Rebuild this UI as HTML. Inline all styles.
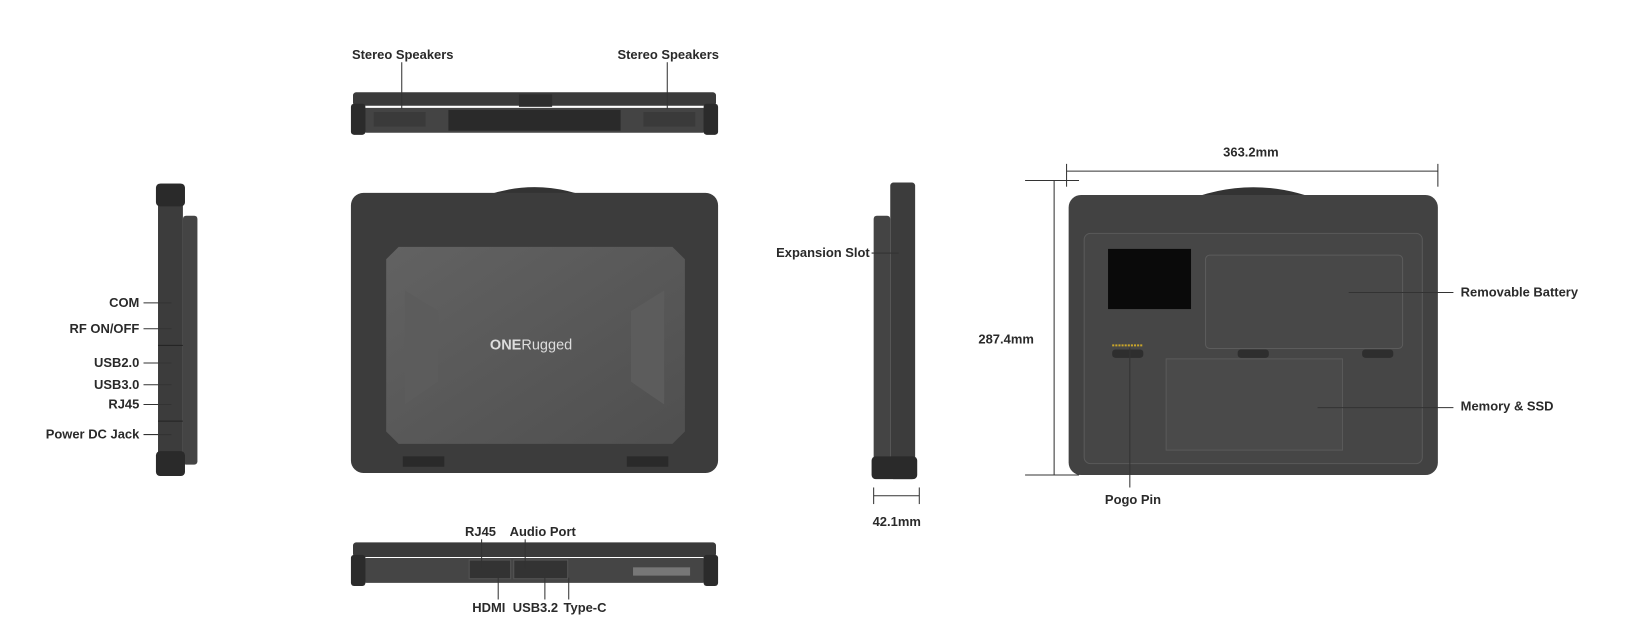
<!DOCTYPE html>
<html><head><meta charset="utf-8"><style>
html,body{margin:0;padding:0;background:#fff;width:1627px;height:642px;overflow:hidden}
svg{display:block}
text{font-family:"Liberation Sans",sans-serif;font-size:12.5px;fill:#2a2a2a;font-weight:bold}
</style></head><body>
<svg width="1627" height="642" viewBox="0 0 1568 619" xmlns="http://www.w3.org/2000/svg">
<defs>
<linearGradient id="lid" x1="0" y1="0" x2="1" y2="1"><stop offset="0" stop-color="#626262"/><stop offset="1" stop-color="#4f4f4f"/></linearGradient>
</defs>
<!-- top view -->
<rect x="340" y="89" width="350" height="13" rx="3" fill="#3a3a3a"/>
<rect x="500" y="91" width="32" height="12" fill="#2e2e2e"/>
<rect x="350" y="104" width="330" height="24" rx="3" fill="#444"/>
<rect x="432" y="106" width="166" height="20" fill="#2a2a2a"/>
<rect x="360" y="108" width="50" height="14" fill="#3a3a3a"/><rect x="620" y="108" width="50" height="14" fill="#3a3a3a"/>
<rect x="338" y="100" width="14" height="30" rx="3" fill="#2b2b2b"/><rect x="678" y="100" width="14" height="30" rx="3" fill="#2b2b2b"/>
<!-- lid front -->
<path d="M452 200 Q515 170 578 200" fill="none" stroke="#333" stroke-width="9"/>
<rect x="338" y="186" width="354" height="270" rx="12" fill="#3c3c3c"/>
<path d="M372 250 L384 238 L648 238 L660 250 L660 416 L648 428 L384 428 L372 416Z" fill="url(#lid)"/>
<path d="M390 280 L422 300 L422 368 L390 390Z" fill="#5c5c5c"/><path d="M640 280 L608 300 L608 368 L640 390Z" fill="#5c5c5c"/>
<text x="472" y="337" style="fill:#ddd;font-size:14px">ONE<tspan style="font-weight:normal">Rugged</tspan></text>
<rect x="388" y="440" width="40" height="10" fill="#2a2a2a"/><rect x="604" y="440" width="40" height="10" fill="#2a2a2a"/>
<!-- bottom view -->
<rect x="340" y="523" width="350" height="14" rx="3" fill="#3a3a3a"/>
<rect x="350" y="538" width="330" height="24" rx="3" fill="#454545"/>
<rect x="452" y="540" width="40" height="18" fill="#333" stroke="#555"/><rect x="495" y="540" width="52" height="18" fill="#333" stroke="#555"/>
<rect x="610" y="547" width="55" height="8" fill="#777"/>
<rect x="338" y="535" width="14" height="30" rx="3" fill="#2b2b2b"/><rect x="678" y="535" width="14" height="30" rx="3" fill="#2b2b2b"/>
<!-- left side -->
<rect x="152" y="177" width="24" height="282" rx="3" fill="#3c3c3c"/>
<rect x="176" y="208" width="14" height="240" rx="3" fill="#444"/>
<rect x="150" y="177" width="28" height="22" rx="4" fill="#2a2a2a"/>
<rect x="150" y="435" width="28" height="24" rx="4" fill="#2a2a2a"/>
<line x1="152" y1="333" x2="176" y2="333" stroke="#222"/><line x1="152" y1="406" x2="176" y2="406" stroke="#222"/>
<!-- right side -->
<rect x="858" y="176" width="24" height="286" rx="3" fill="#3c3c3c"/>
<rect x="842" y="208" width="16" height="244" rx="3" fill="#444"/>
<rect x="840" y="440" width="44" height="22" rx="4" fill="#2a2a2a"/>
<!-- back view -->
<path d="M1139 200 Q1208 170 1277 200" fill="none" stroke="#333" stroke-width="9"/>
<rect x="1030" y="188" width="356" height="270" rx="12" fill="#424242"/>
<rect x="1045" y="225" width="326" height="222" rx="6" fill="#464646" stroke="#5a5a5a"/>
<rect x="1068" y="240" width="80" height="58" fill="#0a0a0a"/>
<rect x="1162" y="246" width="190" height="90" rx="4" fill="#484848" stroke="#5c5c5c"/>
<rect x="1124" y="346" width="170" height="88" fill="#4a4a4a" stroke="#5a5a5a"/>
<rect x="1072" y="337" width="30" height="8" rx="3" fill="#2e2e2e"/><rect x="1193" y="337" width="30" height="8" rx="3" fill="#2e2e2e"/><rect x="1313" y="337" width="30" height="8" rx="3" fill="#2e2e2e"/>
<line x1="1072" y1="333" x2="1102" y2="333" stroke="#c9a52a" stroke-width="2" stroke-dasharray="2 1"/>
<g stroke="#333" stroke-width="1" fill="none">
<line x1="387" y1="60" x2="387" y2="105"/><line x1="643" y1="60" x2="643" y2="105"/>
<line x1="138" y1="292" x2="165" y2="292"/><line x1="138" y1="317" x2="165" y2="317"/>
<line x1="138" y1="350" x2="165" y2="350"/><line x1="138" y1="371" x2="165" y2="371"/>
<line x1="138" y1="390" x2="165" y2="390"/><line x1="138" y1="419" x2="165" y2="419"/>
<line x1="840" y1="244" x2="866" y2="244"/>
<line x1="464" y1="520" x2="464" y2="548"/><line x1="506" y1="520" x2="506" y2="548"/>
<line x1="480" y1="557" x2="480" y2="578"/><line x1="525" y1="557" x2="525" y2="578"/><line x1="548" y1="557" x2="548" y2="578"/>
<line x1="1300" y1="282" x2="1401" y2="282"/><line x1="1270" y1="393" x2="1401" y2="393"/>
<line x1="1089" y1="335" x2="1089" y2="470"/>
<line x1="1028" y1="165" x2="1386" y2="165"/><line x1="1028" y1="158" x2="1028" y2="180"/><line x1="1386" y1="158" x2="1386" y2="180"/>
<line x1="1016" y1="174" x2="1016" y2="458"/><line x1="988" y1="174" x2="1040" y2="174"/><line x1="988" y1="458" x2="1040" y2="458"/>
<line x1="842" y1="470" x2="842" y2="486"/><line x1="886" y1="470" x2="886" y2="486"/><line x1="842" y1="478" x2="886" y2="478"/>
</g>
<text x="339" y="57">Stereo Speakers</text><text x="595" y="57">Stereo Speakers</text>
<text x="134" y="296" text-anchor="end">COM</text>
<text x="134" y="321" text-anchor="end">RF ON/OFF</text>
<text x="134" y="354" text-anchor="end">USB2.0</text>
<text x="134" y="375" text-anchor="end">USB3.0</text>
<text x="134" y="394" text-anchor="end">RJ45</text>
<text x="134" y="423" text-anchor="end">Power DC Jack</text>
<text x="748" y="248">Expansion Slot</text>
<text x="841" y="507">42.1mm</text>
<text x="448" y="517">RJ45</text><text x="491" y="517">Audio Port</text>
<text x="455" y="590">HDMI</text><text x="494" y="590">USB3.2</text><text x="543" y="590">Type-C</text>
<text x="1179" y="151">363.2mm</text>
<text x="943" y="331">287.4mm</text>
<text x="1408" y="286">Removable Battery</text>
<text x="1408" y="396">Memory &amp; SSD</text>
<text x="1065" y="486">Pogo Pin</text>
</svg>
</body></html>
